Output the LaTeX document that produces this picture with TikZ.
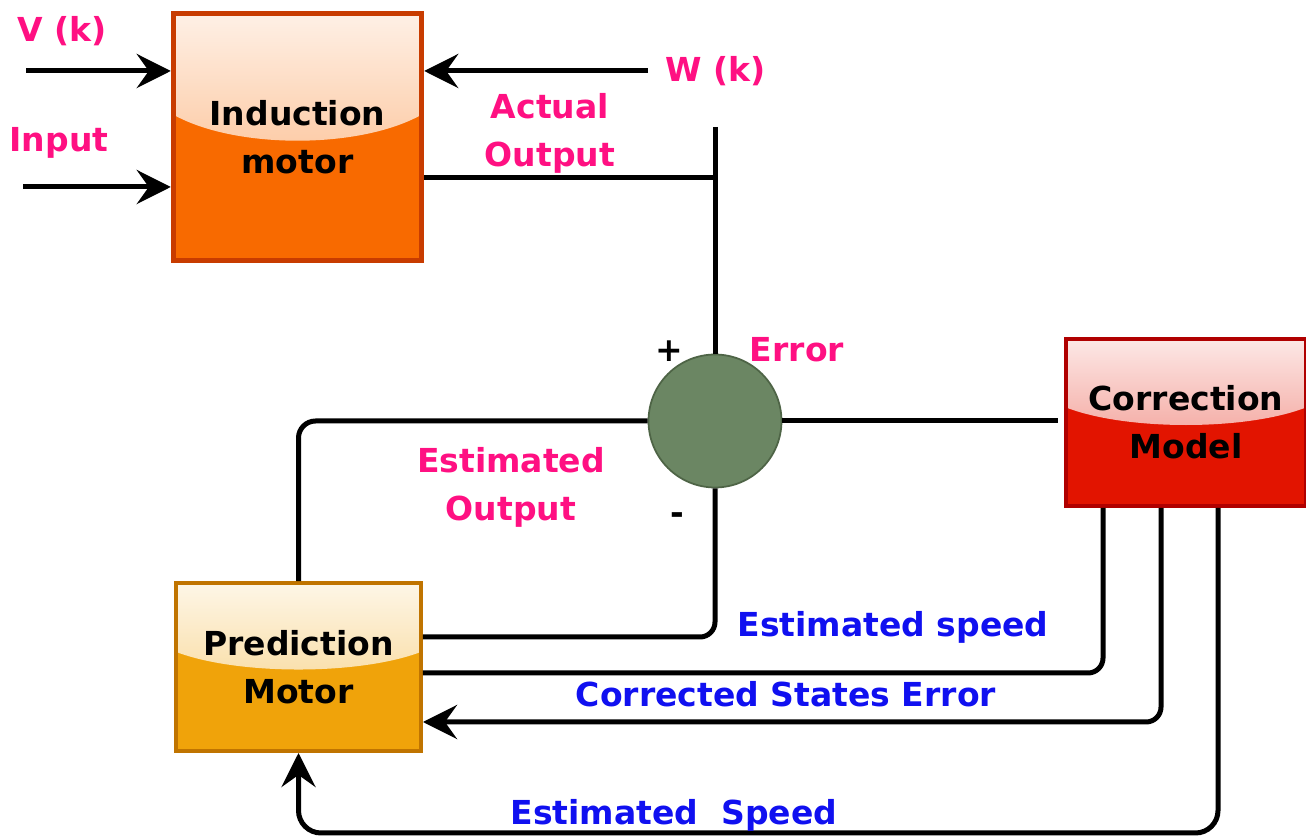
\documentclass[tikz,border=0pt]{standalone}
\usepackage{fontspec}
\setmainfont{DejaVu Sans}
\usetikzlibrary{arrows.meta,positioning,calc}
\definecolor{motororange}{RGB}{248,106,0}
\definecolor{motoredge}{RGB}{200,60,0}
\definecolor{correctred}{RGB}{226,20,0}
\definecolor{correctedge}{RGB}{176,0,0}
\definecolor{predictamber}{RGB}{240,163,10}
\definecolor{predictedge}{RGB}{192,116,0}
\definecolor{sumgreen}{RGB}{107,134,99}
\definecolor{sumedge}{RGB}{78,100,70}
\definecolor{labelpink}{RGB}{255,16,130}
\definecolor{labelblue}{RGB}{16,16,240}

\begin{document}
\begin{tikzpicture}[
  x=0.02cm, y=-0.02cm,
  labelfont/.style={font=\fontsize{18.8}{27.3}\selectfont\bfseries},
  block/.style n args={2}{rectangle, fill=#1, draw=#2, line width=0.08cm, align=center, labelfont,
    path picture={\shade[top color=white!90!#1, bottom color=white!45!#1]
      let \p1=(path picture bounding box.south west), \p2=(path picture bounding box.north east) in
      (\x1,\y2) -- (\x2,\y2) -- (\x2,{\y2-0.41*(\y2-\y1)})
      .. controls ({\x1+0.75*(\x2-\x1)},{\y2-0.55*(\y2-\y1)}) and ({\x1+0.25*(\x2-\x1)},{\y2-0.55*(\y2-\y1)})
      .. (\x1,{\y2-0.41*(\y2-\y1)}) -- cycle;}},
  pinklabel/.style={labelfont, text=labelpink, align=center, inner sep=0pt},
  bluelabel/.style={labelfont, text=labelblue, inner sep=0pt, anchor=base},
  sign/.style={labelfont, inner sep=0pt, anchor=base},
  wire/.style={line width=0.1cm, draw=black},
  arrow/.style={wire, -{Stealth[length=0.68cm, width=0.68cm, inset=0.24cm]}}
]
\useasboundingbox (0,0) rectangle (1306,837);

% blocks
\node[block={motororange}{motoredge}, line width=0.11cm, minimum width=4.96cm, minimum height=4.94cm] (im) at (297.5,137) {Induction\\motor};
\node[block={correctred}{correctedge}, minimum width=4.8cm, minimum height=3.34cm] (cm) at (1186,422.5) {Correction\\Model};
\node[block={predictamber}{predictedge}, minimum width=4.9cm, minimum height=3.36cm] (pm) at (298.5,667) {Prediction\\Motor};
\node[circle, fill=sumgreen, draw=sumedge, line width=1pt, minimum size=2.66cm, inner sep=0pt] (sum) at (715,421) {};

% free ends
\coordinate (vin) at (26,71);
\coordinate (uin) at (23,187);
\coordinate (win) at (648,71);
\coordinate (tap) at (715,178);
\coordinate (taptop) at (715,127);
\coordinate (bottom) at (0,833);

% inputs
\draw[arrow] (vin) -- (vin -| im.west);
\draw[arrow] (uin) -- (uin -| im.west);
\draw[arrow] (win) -- (win -| im.east);

% error loop
\draw[wire] (im.east |- tap) -- (tap);
\draw[wire] (taptop) -- (sum.north);
\draw[wire, rounded corners=0.34cm] (pm.north) |- (sum.west);
\draw[wire] (sum.east) -- ($(sum.east -| cm.west)+(-6,0)$);
\draw[wire, rounded corners=0.3cm] (sum.south) |- ($(pm.east)+(0,-30)$);
\draw[wire, rounded corners=0.3cm] ($(cm.south west)+(39,0)$) |- ($(pm.east)+(0,6)$);
\draw[arrow, rounded corners=0.3cm] ($(cm.south west)+(97,0)$) |- ($(pm.east)+(0,55)$);
\draw[arrow, rounded corners=0.45cm] ($(cm.south west)+(154,0)$) |- (pm.south |- bottom) -- (pm.south);

% labels
\node[pinklabel, anchor=base] (vlabel) at (62,42) {V (k)};
\node[pinklabel, anchor=base] (ulabel) at (59,152) {Input};
\node[pinklabel, anchor=base] (wlabel) at (716,82) {W (k)};
\node[pinklabel] (actual) at (550,133) {Actual\\Output};
\node[pinklabel, anchor=base] (error) at (797,362) {Error};
\node[pinklabel] (estout) at (511,487) {Estimated\\Output};
\node[sign] (plus) at (669,362) {+};
\node[sign] (minus) at (677,525) {-};
\node[bluelabel] (espeed) at (893,637) {Estimated speed};
\node[bluelabel] (cserr) at (786,707) {Corrected States Error};
\node[bluelabel] (espeed2) at (674,825) {Estimated\ \ Speed};
\end{tikzpicture}
\end{document}
